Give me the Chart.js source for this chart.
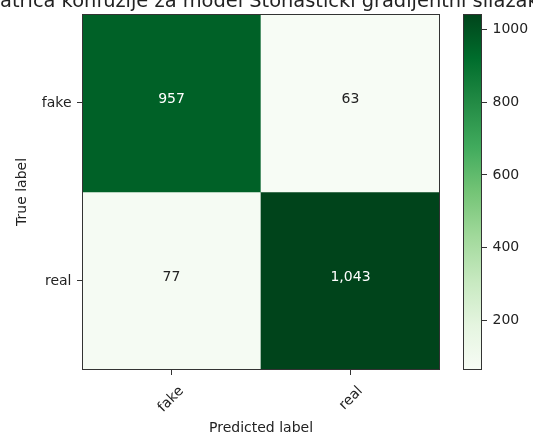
<!DOCTYPE html>
<html>
<head>
<meta charset="utf-8">
<script src="https://cdn.jsdelivr.net/npm/chart.js@4"></script>
<style>
  html, body { margin: 0; padding: 0; background: #fff; }
  #wrap { position: relative; width: 533px; height: 437px; }
  #wrap canvas { position: absolute; left: 0; top: 0; }
</style>
</head>
<body>
<div id="wrap">
  <canvas id="matrix" width="533" height="437" style="width:533px;height:437px"></canvas>
  <canvas id="colorbar" width="533" height="437" style="width:533px;height:437px"></canvas>
</div>
<script>
"use strict";

const titleText = "Matrica konfuzije za model Stohastički gradijentni silazak";
const trueLabels = ["fake", "real"];
const predictedLabels = ["fake", "real"];
const rowFake = [957, 63];     // true label fake
const rowReal = [77, 1043];    // true label real
const colorbarTicks = [200, 400, 600, 800, 1000];

// matplotlib "Greens"
const GREENS = ["#f7fcf5", "#e5f5e0", "#c7e9c0", "#a1d99b", "#74c476",
                "#41ab5d", "#238b45", "#006d2c", "#00441b"];

function hexToRgb(h) {
  return [1, 3, 5].map(i => parseInt(h.substr(i, 2), 16));
}

function greens(t) {
  t = Math.max(0, Math.min(1, t));
  const p = t * (GREENS.length - 1);
  const i = Math.min(Math.floor(p), GREENS.length - 2);
  const f = p - i;
  const a = hexToRgb(GREENS[i]), b = hexToRgb(GREENS[i + 1]);
  const c = a.map((v, k) => Math.round(v + (b[k] - v) * f));
  return "rgb(" + c.join(",") + ")";
}

Chart.defaults.font.family = "'DejaVu Sans', sans-serif";
Chart.defaults.color = "#222";

const rows = [rowFake, rowReal];
const all = rows.flat();
const vMin = Math.min(...all);
const vMax = Math.max(...all);
const norm = v => (v - vMin) / (vMax - vMin);
const tickFont = { size: 14 };

const datasets = rows.map((counts, r) => ({
  label: trueLabels[r],
  data: counts.map(() => [rows.length - 1 - r, rows.length - r]),
  counts: counts,
  backgroundColor: counts.map(c => greens(norm(c))),
  borderWidth: 0,
  barPercentage: 1,
  categoryPercentage: 1,
  grouped: false
}));

const matrixDecor = {
  id: "matrixDecor",
  afterDatasetsDraw(chart) {
    const ctx = chart.ctx;
    ctx.save();
    ctx.font = "14px 'DejaVu Sans'";
    ctx.textAlign = "center";
    ctx.textBaseline = "alphabetic";
    chart.data.datasets.forEach((ds, i) => {
      chart.getDatasetMeta(i).data.forEach((bar, j) => {
        const v = ds.counts[j];
        const p = bar.getCenterPoint();
        ctx.fillStyle = v > (vMin + vMax) / 2 ? "#ffffff" : "#222222";
        ctx.fillText(v.toLocaleString("en-US"), p.x, p.y);
      });
    });
    const a = chart.chartArea;
    ctx.strokeStyle = "#333";
    ctx.lineWidth = 1;
    ctx.strokeRect(Math.round(a.left) + 0.5, Math.round(a.top) + 0.5,
                   Math.round(a.right - a.left) - 1, Math.round(a.bottom - a.top) - 1);
    ctx.restore();
  },
  afterDraw(chart) {
    const ctx = chart.ctx;
    const a = chart.chartArea;
    ctx.save();
    ctx.font = "19.4px 'DejaVu Sans'";
    ctx.fillStyle = "#222";
    ctx.textAlign = "center";
    ctx.textBaseline = "alphabetic";
    ctx.fillText(titleText, (a.left + a.right) / 2, 7);
    ctx.restore();
  }
};

new Chart(document.getElementById("matrix"), {
  type: "bar",
  data: { labels: predictedLabels, datasets: datasets },
  options: {
    responsive: false,
    animation: false,
    layout: { padding: { left: 0, right: 93, top: 13.5, bottom: 0 } },
    plugins: { legend: { display: false }, tooltip: { enabled: false } },
    scales: {
      x: {
        type: "category",
        offset: true,
        grid: { offset: false, drawOnChartArea: false, tickLength: 5, color: "#333" },
        border: { display: false },
        ticks: { font: tickFont, color: "#222", minRotation: 45, maxRotation: 45,
                 autoSkip: false, labelOffset: 10, padding: 8 },
        title: { display: true, text: "Predicted label", font: tickFont, color: "#222",
                 padding: { top: 0, bottom: 0 } },
        afterFit: s => { s.height = 67; }
      },
      y: {
        type: "linear",
        min: 0,
        max: rows.length,
        afterBuildTicks: s => {
          s.ticks = trueLabels.map((_, r) => ({ value: rows.length - r - 0.5 }));
        },
        grid: { drawOnChartArea: false, tickLength: 5, color: "#333" },
        border: { display: false },
        ticks: {
          font: tickFont, color: "#222", padding: 5.5,
          callback: v => trueLabels[Math.round(rows.length - 0.5 - v)]
        },
        title: { display: true, text: "True label", font: tickFont, color: "#222",
                 padding: { top: 13.6, bottom: 0 } },
        afterFit: s => { s.width = 82; }
      }
    }
  },
  plugins: [matrixDecor]
});

const colorbarFrame = {
  id: "colorbarFrame",
  afterDatasetsDraw(chart) {
    const ctx = chart.ctx;
    const a = chart.chartArea;
    ctx.save();
    ctx.strokeStyle = "#333";
    ctx.lineWidth = 1;
    ctx.strokeRect(Math.round(a.left) + 0.5, Math.round(a.top) + 0.5,
                   Math.round(a.right - a.left) - 1, Math.round(a.bottom - a.top) - 1);
    ctx.restore();
  }
};

new Chart(document.getElementById("colorbar"), {
  type: "bar",
  data: {
    labels: [""],
    datasets: [{
      data: [[vMin, vMax]],
      backgroundColor: c => {
        const ch = c.chart;
        if (!ch.chartArea) return GREENS[0];
        const y = ch.scales.y;
        const g = ch.ctx.createLinearGradient(0, y.getPixelForValue(vMin), 0, y.getPixelForValue(vMax));
        GREENS.forEach((col, i) => g.addColorStop(i / (GREENS.length - 1), col));
        return g;
      },
      borderWidth: 0,
      barPercentage: 1,
      categoryPercentage: 1
    }]
  },
  options: {
    responsive: false,
    animation: false,
    layout: { padding: { left: 463, right: 0, top: 13.5, bottom: 67 } },
    plugins: { legend: { display: false }, tooltip: { enabled: false } },
    scales: {
      x: { display: false },
      y: {
        position: "right",
        min: vMin,
        max: vMax,
        afterBuildTicks: s => { s.ticks = colorbarTicks.map(v => ({ value: v })); },
        grid: { drawOnChartArea: false, tickLength: 5, color: "#333" },
        border: { display: false },
        ticks: { font: tickFont, color: "#222", padding: 5.5, callback: v => String(v) },
        afterFit: s => { s.width = 51; }
      }
    }
  },
  plugins: [colorbarFrame]
});
</script>
</body>
</html>
